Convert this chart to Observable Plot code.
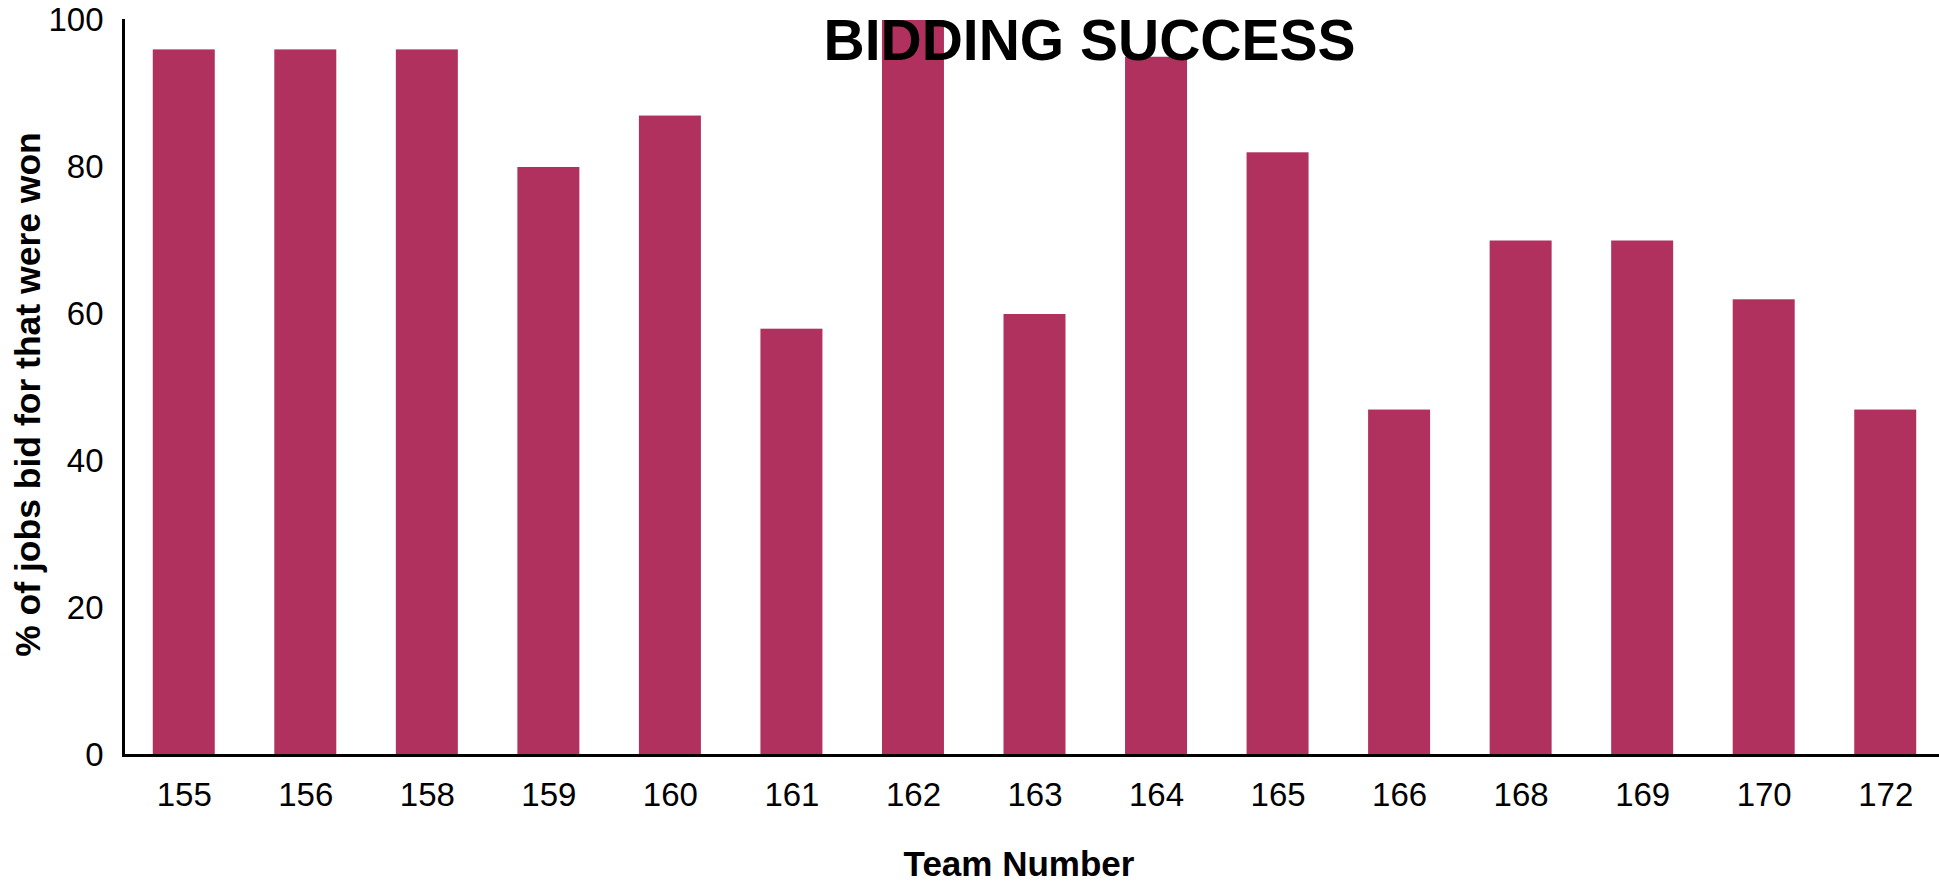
<!DOCTYPE html>
<html><head><meta charset="utf-8">
<script src="https://cdn.jsdelivr.net/npm/d3@7"></script>
<script src="https://cdn.jsdelivr.net/npm/@observablehq/plot@0.6"></script>
<style>
html,body{margin:0;padding:0;background:#fff;overflow:hidden;}
#chart svg{display:block;max-width:none !important;}
</style></head><body><div id="chart"></div>
<script>
const teams = ["155","156","158","159","160","161","162","163","164","165","166","168","169","170","172"];
const pctWon = [96,96,96,80,87,58,100,60,95,82,47,70,70,62,47];
const yTicks = [0,20,40,60,80,100];
const title = "BIDDING SUCCESS";
const xLabel = "Team Number";
const yLabel = "% of jobs bid for that were won";
const data = teams.map((t,i)=>({team:t, pct:pctWon[i]}));
const font = "'Liberation Sans', Arial, sans-serif";
const chart = Plot.plot({
  width: 1946, height: 881,
  marginTop: 20, marginBottom: 126, marginLeft: 123, marginRight: 0,
  style: {fontFamily: font, background: "#fff", color: "#000", overflow: "visible", maxWidth: "none"},
  x: {domain: teams, paddingInner: 0.49, paddingOuter: 0.245, round: false, label: null},
  y: {domain: [0,100], label: null},
  marks: [
    Plot.barY(data, {x:"team", y:"pct", fill:"#b0305e"}),
    Plot.axisY({ticks: yTicks, tickSize: 0, tickPadding: 20, fontSize: 33, label: null}),
    Plot.axisX({tickSize: 0, tickPadding: 27, fontSize: 33, label: null}),
    Plot.frame({anchor:"left", strokeWidth: 3, stroke:"#000"}),
    Plot.ruleY([0], {strokeWidth: 3, stroke:"#000"}),
    Plot.text([title], {text: d => d, frameAnchor:"top", lineAnchor:"bottom", dy: 39, dx: 54.5, fontSize: 57, fontWeight:"bold", fill:"#000"}),
    Plot.text([xLabel], {text: d => d, frameAnchor:"bottom", lineAnchor:"bottom", dy: 120, dx: -16, fontSize: 35, fontWeight:"bold", fill:"#000"}),
    Plot.text([yLabel], {text: d => d, frameAnchor:"left", textAnchor:"middle", rotate:-90, lineAnchor:"bottom", dx:-84, dy:6.5, fontSize:35.5, fontWeight:"bold", fill:"#000"})
  ]
});
document.getElementById("chart").appendChild(chart);
</script></body></html>
